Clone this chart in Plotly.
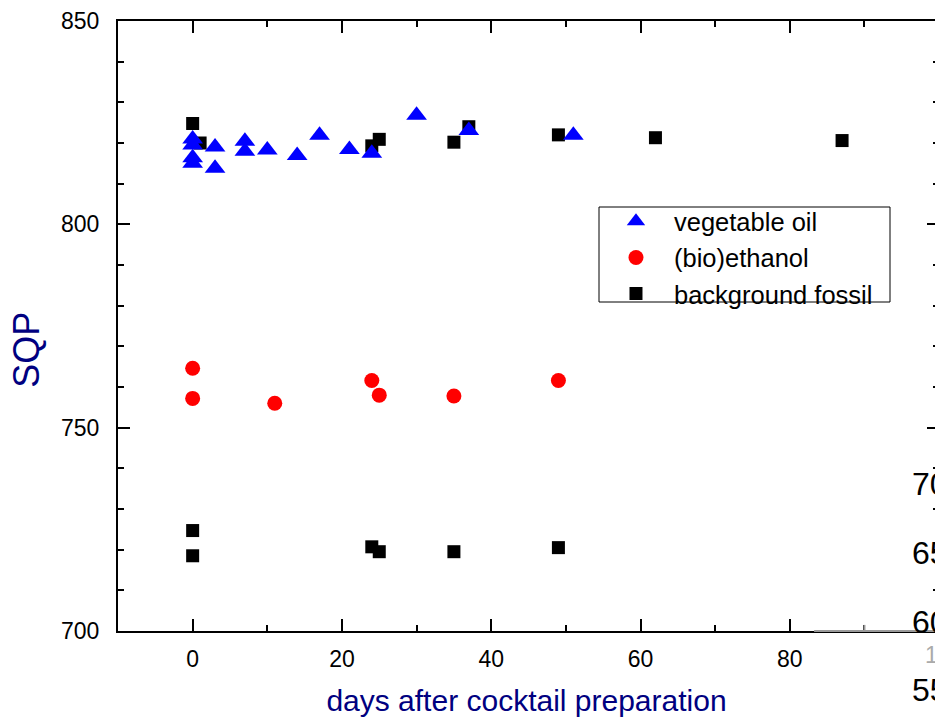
import plotly.graph_objects as go

# ---- data ----
veg_days = [0, 0, 0, 0, 3, 3, 7, 7, 10, 14, 17, 21, 24, 30, 37, 51]
veg_sqp = [821.0, 819.5, 816.4, 815.0, 819.0, 813.8, 820.4, 818.0, 818.3, 816.9, 821.9, 818.4, 817.5, 826.8, 823.1, 821.9]

eth_days = [0, 0, 11, 24, 25, 35, 49]
eth_sqp = [764.6, 757.2, 756.0, 761.6, 758.0, 757.8, 761.6]

fos_days = [0, 1, 24, 25, 35, 37, 49, 62, 87, 0, 0, 24, 25, 35, 49]
fos_sqp = [824.8, 820.0, 819.3, 820.9, 820.2, 824.0, 822.0, 821.3, 820.6,
           724.7, 718.5, 720.7, 719.5, 719.5, 720.5]

x_ticks = [0, 20, 40, 60, 80]
y_ticks = [700, 750, 800, 850]

FONT = "Arial, Liberation Sans, sans-serif"
NAVY = "#000080"

fig = go.Figure()
fig.add_trace(go.Scatter(x=fos_days, y=fos_sqp, mode="markers", name="background fossil",
                         marker=dict(symbol="square", size=13, color="black")))
fig.add_trace(go.Scatter(x=eth_days, y=eth_sqp, mode="markers", name="(bio)ethanol",
                         marker=dict(symbol="circle", size=15, color="#FF0000")))
fig.add_trace(go.Scatter(x=veg_days, y=veg_sqp, mode="markers", name="vegetable oil",
                         marker=dict(symbol="triangle-up", size=18, color="#0000FF")))
# empty trace to host the right-hand tick axis
fig.add_trace(go.Scatter(x=[], y=[], yaxis="y2", showlegend=False, hoverinfo="skip"))

fig.update_layout(
    width=935, height=718,
    margin=dict(l=118, r=0, t=21, b=87),
    paper_bgcolor="white", plot_bgcolor="white",
    font=dict(family=FONT, color="black", size=23),
    showlegend=True,
    legend=dict(x=0.5875, y=0.7095, xanchor="left", yanchor="top",
                bgcolor="rgba(255,255,255,0)", borderwidth=0,
                font=dict(size=25.5, family=FONT), traceorder="reversed",
                itemwidth=66, tracegroupgap=0),
    xaxis=dict(range=[-10, 99.45], showgrid=False, zeroline=False,
               showline=True, linecolor="black", linewidth=2, mirror="ticks",
               ticks="inside", ticklen=12, tickwidth=2, tickcolor="black",
               tickvals=x_ticks, ticktext=[str(v) for v in x_ticks],
               minor=dict(dtick=10, tick0=0, ticks="inside", ticklen=6, tickwidth=2, tickcolor="black", showgrid=False),
               tickfont=dict(size=23), ticklabelstandoff=6,
               title=dict(text="days after cocktail preparation", font=dict(size=30, color=NAVY), standoff=19)),
    yaxis=dict(range=[700, 850], showgrid=False, zeroline=False,
               showline=True, linecolor="black", linewidth=2, mirror=False,
               ticks="inside", ticklen=12, tickwidth=2, tickcolor="black",
               tickvals=y_ticks, ticktext=[str(v) for v in y_ticks],
               minor=dict(dtick=10, tick0=700, ticks="inside", ticklen=6, tickwidth=2, tickcolor="black", showgrid=False),
               tickfont=dict(size=23), ticklabelstandoff=12),
    yaxis2=dict(range=[700, 850], overlaying="y", side="right", anchor="free", position=1,
                showgrid=False, zeroline=False, showline=False, showticklabels=False,
                ticks="inside", ticklen=8, tickwidth=2, tickcolor="black",
                tickvals=y_ticks,
                minor=dict(dtick=10, tick0=700, ticks="inside", ticklen=2, tickwidth=2, tickcolor="black", showgrid=False)),
)

# legend frame
fig.add_shape(type="rect", xref="paper", yref="paper",
              x0=(599 - 118) / 817, x1=(890 - 118) / 817,
              y0=(631 - 302) / 610, y1=(631 - 207) / 610,
              line=dict(color="black", width=1), fillcolor="rgba(0,0,0,0)", layer="above")

# y title
fig.add_annotation(text="SQP", xref="paper", yref="paper", x=-0.112, y=0.462,
                   textangle=-90, showarrow=False, xanchor="center", yanchor="middle",
                   font=dict(size=36, color=NAVY, family=FONT))

# overlapping fragment from a neighbouring panel on the right edge
fig.add_shape(type="line", xref="paper", yref="paper", x0=0.852, x1=1.0, y0=0, y1=0,
              line=dict(color="#9a9a9a", width=2), layer="above")
fig.add_shape(type="line", xref="x", yref="y", x0=90, x1=90, y0=700, y1=701.5,
              line=dict(color="#9a9a9a", width=2), layer="above")
for txt, yp in [("70", 0.241), ("65", 0.128), ("60", 0.0148), ("55", -0.0967)]:
    fig.add_annotation(text=txt, xref="paper", yref="paper", x=0.969, y=yp,
                       xanchor="left", yanchor="middle", showarrow=False,
                       font=dict(size=32, color="black", family=FONT))
fig.add_annotation(text="100", xref="paper", yref="paper", x=0.985, y=-0.04,
                   xanchor="left", yanchor="middle", showarrow=False,
                   font=dict(size=23, color="#aaaaaa", family=FONT))

fig.write_html("out.html")
